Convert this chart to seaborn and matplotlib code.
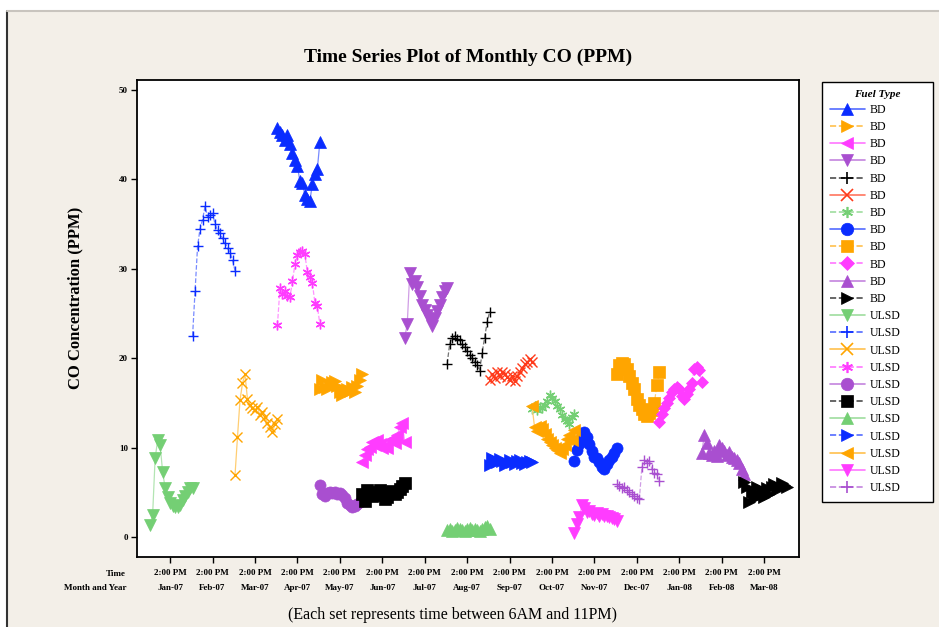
import matplotlib
matplotlib.use("Agg")
import matplotlib.pyplot as plt
import matplotlib.transforms as mtransforms
from matplotlib.lines import Line2D
from matplotlib.patches import Rectangle
from matplotlib.colors import to_rgb
import numpy as np
import pandas as pd
import seaborn as sns

# ---------------- data ----------------
MONTHS = ["Jan-07", "Feb-07", "Mar-07", "Apr-07", "May-07", "Jun-07", "Jul-07",
          "Aug-07", "Sep-07", "Oct-07", "Nov-07", "Dec-07", "Jan-08", "Feb-08", "Mar-08"]
TIME_LABEL = "2:00 PM"
HOURS = list(range(6, 24))  # 6AM .. 11PM

bd_apr07 = [45.8, 45.3, 45.0, 44.4, 45.0, 44.0, 43.0, 42.2, 41.5, 39.8, 39.6, 38.2, 37.8, 37.6, 39.5, 40.6, 41.2, 44.2]
bd_may07 = [16.6, 17.6, 16.8, 16.5, 17.0, 17.3, 17.5, 16.9, 16.2, 15.9, 16.4, 16.6, 16.3, 16.8, 16.2, 16.9, 17.6, 18.2]
bd_jun07 = [8.4, 9.2, 9.8, 10.1, 10.6, 10.3, 10.9, 10.4, 10.0, 10.2, 10.0, 10.8, 11.0, 10.5, 11.4, 12.3, 12.8, 10.6]
bd_jul07 = [22.3, 23.8, 29.5, 28.3, 28.6, 28.0, 27.0, 26.0, 25.4, 24.8, 24.3, 23.6, 24.5, 25.3, 26.0, 26.9, 27.5, 27.8]
bd_aug07 = [19.4, 21.6, 22.3, 22.5, 22.2, 22.0, 21.6, 21.2, 20.8, 20.4, 20.0, 19.6, 19.2, 18.6, 20.6, 22.3, 24.0, 25.2]
bd_sep07 = [17.6, 18.2, 17.8, 18.5, 18.0, 18.4, 18.2, 17.9, 17.6, 18.0, 17.5, 18.0, 18.5, 18.9, 19.3, 19.6, 19.9, 19.6]
bd_oct07 = [14.3, 14.6, 14.2, 14.5, 14.4, 14.8, 15.2, 15.9, 15.5, 15.2, 14.6, 14.3, 13.6, 13.2, 13.0, 12.6, 13.4, 13.8]
bd_nov07 = [8.5, 9.7, 10.4, 11.3, 11.7, 11.2, 10.4, 9.6, 9.0, 8.8, 8.4, 7.8, 7.6, 8.2, 8.6, 9.0, 9.4, 9.9]
bd_dec07 = [18.2, 19.2, 19.5, 19.3, 18.8, 18.0, 17.2, 16.5, 15.4, 14.8, 14.3, 13.8, 13.5, 13.9, 14.2, 15.0, 17.0, 18.4]
bd_jan08 = [12.9, 13.8, 14.4, 15.0, 15.6, 16.2, 16.5, 16.8, 16.5, 15.8, 15.4, 16.0, 16.6, 17.2, 18.8, 19.0, 18.7, 17.3]
bd_feb08 = [9.4, 11.4, 10.5, 9.4, 9.2, 9.6, 9.1, 10.3, 10.0, 9.6, 9.2, 9.5, 9.0, 8.8, 8.6, 8.3, 7.6, 7.0]
bd_mar08 = [6.2, 5.6, 3.9, 5.0, 4.4, 5.6, 4.6, 5.3, 4.5, 5.5, 4.8, 5.6, 5.9, 5.2, 5.6, 6.0, 5.8, 5.6]

ulsd_jan07 = [1.3, 2.5, 8.8, 10.8, 10.3, 7.3, 5.5, 4.5, 3.8, 3.5, 3.4, 3.4, 3.6, 4.1, 4.6, 5.0, 5.5, 5.5]
ulsd_feb07 = [22.5, 27.5, 32.5, 34.5, 35.5, 37.0, 35.8, 36.0, 36.2, 35.0, 34.3, 34.0, 33.4, 32.9, 32.3, 31.8, 31.0, 29.8]
ulsd_mar07 = [6.9, 11.2, 15.3, 17.2, 18.2, 15.4, 14.8, 14.4, 14.2, 14.5, 13.6, 14.0, 13.4, 12.8, 12.3, 11.7, 12.6, 13.2]
ulsd_apr07 = [23.7, 27.8, 27.2, 27.5, 27.0, 26.8, 28.6, 30.5, 31.5, 31.9, 32.0, 31.6, 29.6, 29.1, 28.4, 26.2, 25.8, 23.8]
ulsd_may07 = [5.8, 4.8, 4.6, 4.9, 5.0, 4.9, 5.0, 4.8, 4.9, 4.7, 4.4, 3.8, 3.6, 3.4, 3.5, 3.7, 3.9, 4.2]
ulsd_jun07 = [4.8, 4.0, 5.3, 5.0, 4.6, 4.8, 4.9, 5.2, 4.7, 4.3, 4.5, 4.9, 5.1, 4.8, 5.0, 5.4, 5.7, 6.0]
ulsd_aug07 = [0.8, 0.9, 0.7, 0.8, 1.0, 0.9, 0.8, 0.7, 0.9, 1.0, 0.8, 0.9, 0.8, 0.7, 0.9, 1.1, 1.2, 0.9]
ulsd_sep07 = [8.0, 8.8, 8.6, 8.4, 8.7, 8.5, 8.1, 8.3, 8.6, 8.4, 8.2, 8.5, 8.6, 8.3, 8.2, 8.4, 8.5, 8.4]
ulsd_oct07 = [14.6, 12.3, 11.9, 12.4, 12.1, 11.5, 11.0, 10.6, 10.3, 10.0, 9.7, 9.4, 9.8, 10.3, 11.0, 11.4, 10.8, 12.0]
ulsd_nov07 = [0.5, 1.5, 2.2, 3.6, 3.2, 2.8, 2.9, 2.6, 2.5, 2.7, 2.4, 2.6, 2.3, 2.4, 2.2, 2.1, 2.0, 1.8]
ulsd_dec07 = [5.9, 5.7, 5.5, 5.6, 5.3, 5.0, 4.8, 4.6, 4.4, 4.3, 7.8, 8.6, 8.3, 8.5, 7.6, 7.2, 7.0, 6.3]

# (fuel type, month, values) in legend order
SERIES = [
    ("BD", "Apr-07", bd_apr07), ("BD", "May-07", bd_may07), ("BD", "Jun-07", bd_jun07),
    ("BD", "Jul-07", bd_jul07), ("BD", "Aug-07", bd_aug07), ("BD", "Sep-07", bd_sep07),
    ("BD", "Oct-07", bd_oct07), ("BD", "Nov-07", bd_nov07), ("BD", "Dec-07", bd_dec07),
    ("BD", "Jan-08", bd_jan08), ("BD", "Feb-08", bd_feb08), ("BD", "Mar-08", bd_mar08),
    ("ULSD", "Jan-07", ulsd_jan07), ("ULSD", "Feb-07", ulsd_feb07), ("ULSD", "Mar-07", ulsd_mar07),
    ("ULSD", "Apr-07", ulsd_apr07), ("ULSD", "May-07", ulsd_may07), ("ULSD", "Jun-07", ulsd_jun07),
    ("ULSD", "Aug-07", ulsd_aug07), ("ULSD", "Sep-07", ulsd_sep07), ("ULSD", "Oct-07", ulsd_oct07),
    ("ULSD", "Nov-07", ulsd_nov07), ("ULSD", "Dec-07", ulsd_dec07),
]

# ---------------- styles ----------------
BLUE, ORANGE, MAGENTA, PURPLE = "#0a2cff", "#ffa500", "#ff3cff", "#a94fd0"
BLACK, RED, GREEN = "#000000", "#ff3a1a", "#74cf74"
ASTER = (6, 2, 0)
STYLES = [  # color, marker, linestyle
    (BLUE, "^", "-"), (ORANGE, ">", "--"), (MAGENTA, "<", "-"), (PURPLE, "v", "-"),
    (BLACK, "+", "--"), (RED, "x", "-"), (GREEN, ASTER, "--"), (BLUE, "o", "-"),
    (ORANGE, "s", "--"), (MAGENTA, "D", "--"), (PURPLE, "^", "-"), (BLACK, ">", "--"),
    (GREEN, "v", "-"), (BLUE, "+", "--"), (ORANGE, "x", "-"), (MAGENTA, ASTER, "--"),
    (PURPLE, "o", "-"), (BLACK, "s", "--"), (GREEN, "^", "-"), (BLUE, ">", "--"),
    (ORANGE, "<", "-"), (MAGENTA, "v", "-"), (PURPLE, "+", "--"),
]
LINE_MARKERS = {"+", "x", ASTER}


def lighten(c, f=0.45):
    r, g, b = to_rgb(c)
    return (r + (1 - r) * f, g + (1 - g) * f, b + (1 - b) * f)


sns.set_theme(style="white")
plt.rcParams["font.family"] = ["Liberation Serif", "DejaVu Serif"]
plt.rcParams["text.color"] = "black"
plt.rcParams["axes.labelcolor"] = "black"
plt.rcParams["xtick.color"] = "black"
plt.rcParams["ytick.color"] = "black"

W, H = 939, 627
fig = plt.figure(figsize=(W / 100, H / 100), dpi=100, facecolor="white")

# beige panel
fig.patches.append(Rectangle((7 / W, 0), 1 - 7 / W, 1 - 11 / H, transform=fig.transFigure,
                             facecolor="#f3efe8", edgecolor="none", zorder=-10))
fig.add_artist(Line2D([7 / W, 7 / W], [0, 1 - 11 / H], color="#333333", lw=1.5, transform=fig.transFigure))
fig.add_artist(Line2D([7 / W, 1], [1 - 11 / H, 1 - 11 / H], color="#c8c4be", lw=1.5, transform=fig.transFigure))

ax = fig.add_axes([137 / W, 1 - 557 / H, (799 - 137) / W, (557 - 80) / H])
ax.set_facecolor("white")

rows = []
for fuel, month, vals in SERIES:
    m = MONTHS.index(month)
    for h, v in zip(HOURS, vals):
        rows.append({"fuel": fuel, "month": month, "x": m + (h - 14) / 17.0, "co": v})
df = pd.DataFrame(rows)

handles = []
for (fuel, month, vals), (col, mk, ls) in zip(SERIES, STYLES):
    sub = df[(df["fuel"] == fuel) & (df["month"] == month)]
    is_line = mk in LINE_MARKERS
    ms = 8 if not is_line else 7
    if mk == "D":
        ms = 6.5
    kw = dict(marker=mk, markersize=ms, markerfacecolor=col, markeredgecolor=col,
              markeredgewidth=1.0 if is_line else 0.5, linestyle=ls, linewidth=0.9)
    sns.lineplot(x=sub["x"], y=sub["co"], ax=ax, color=lighten(col), sort=False,
                 estimator=None, legend=False, **kw)
    handles.append(Line2D([], [], color=lighten(col, 0.3), linestyle=ls, linewidth=1.2,
                          marker=mk, markersize=ms + 1.0, markerfacecolor=col,
                          markeredgecolor=col, markeredgewidth=1.2 if is_line else 0.5,
                          label=fuel))

ax.set_xlim(-0.78, 14.82)
ax.set_ylim(-2.24, 51.12)
ax.set_yticks([0, 10, 20, 30, 40, 50])
ax.set_yticklabels(["0", "10", "20", "30", "40", "50"], fontsize=6.5, fontweight="bold")
ax.set_xticks(range(len(MONTHS)))
ax.set_xticklabels([TIME_LABEL] * len(MONTHS), fontsize=6.5, fontweight="bold")
ax.tick_params(axis="both", direction="out", length=4.5, width=1, color="black",
               bottom=True, left=True, labelcolor="black")
ax.tick_params(axis="x", pad=4)
ax.tick_params(axis="y", pad=2)
ax.set_xlabel("")
ax.set_ylabel("")
for s in ax.spines.values():
    s.set_color("black")
    s.set_linewidth(1.3)
ax.grid(False)

trans = mtransforms.blended_transform_factory(ax.transData, ax.transAxes)
for i, mlab in enumerate(MONTHS):
    ax.text(i, (557 - 588) / 477, mlab, transform=trans, ha="center", va="center",
            fontsize=6.5, fontweight="bold", color="black")
ax.text((126 - 137) / 662, (557 - 574) / 477, "Time", transform=ax.transAxes, ha="right",
        va="center", fontsize=6.5, fontweight="bold", color="black")
ax.text((126 - 137) / 662, (557 - 588) / 477, "Month and Year", transform=ax.transAxes,
        ha="right", va="center", fontsize=6.5, fontweight="bold", color="black")

fig.text(468 / W, 1 - 57 / H, "Time Series Plot of Monthly CO (PPM)", ha="center", va="center",
         fontsize=14, fontweight="bold", color="black")
fig.text(75 / W, 1 - 298 / H, "CO Concentration (PPM)", ha="center", va="center",
         rotation=90, fontsize=12, fontweight="bold", color="black")
fig.text(452 / W, 1 - 615 / H, "(Each set represents time between 6AM and 11PM)", ha="center",
         va="center", fontsize=11.5, color="black")

leg = fig.legend(handles=handles, loc="upper left",
                 bbox_to_anchor=(822 / W, 1 - 82 / H, 111 / W, 0), mode="expand",
                 title="Fuel Type", title_fontproperties={"weight": "bold", "style": "italic", "size": 8},
                 fontsize=8.5, frameon=True, fancybox=False, framealpha=1, edgecolor="black",
                 handlelength=3.0, handletextpad=0.4, labelspacing=0.44, borderpad=0.65,
                 borderaxespad=0)
leg.get_frame().set_linewidth(1.0)
for t in leg.get_texts():
    t.set_color("black")
leg.get_title().set_color("black")

fig.savefig("out.png", dpi=100, facecolor=fig.get_facecolor())
